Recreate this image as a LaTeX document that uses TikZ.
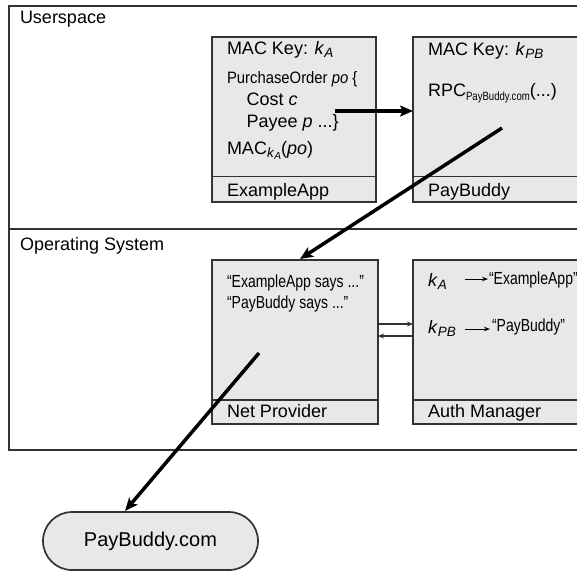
\documentclass[tikz,border=0pt]{standalone}
\usepackage{fontspec}
\setmainfont{Liberation Sans}
\newfontfamily\nf[FakeStretch=0.8]{Liberation Sans}
\newfontfamily\nfb[FakeStretch=0.9]{Liberation Sans}
\usetikzlibrary{arrows.meta}
\definecolor{boxfill}{HTML}{E8E8E8}
\definecolor{edge}{HTML}{333333}
\newcommand\dn[2][0.75]{\raisebox{-0.35ex}{\scalebox{#1}{#2}}}
\begin{document}
\begin{tikzpicture}[x=1pt,y=-1pt,
 every node/.style={inner sep=0pt,outer sep=0pt,font=\fontsize{18}{21}\selectfont},
 region/.style={draw=edge,line width=1.7pt,anchor=north west,minimum width=591pt},
 comp/.style={draw=edge,fill=boxfill,line width=1.7pt,anchor=north west},
 sep/.style={draw=edge,line width=1.7pt},
 txt/.style={anchor=base west},
 ntxt/.style={anchor=base west,font=\fontsize{17.5}{20}\selectfont\nf},
 bigarrow/.style={line width=3.5pt,-{Stealth[length=13pt,width=11pt,inset=3pt]}},
 thinarrow/.style={draw=edge,line width=1.2pt,-{Stealth[length=6pt,width=5pt]}},
 maparrow/.style={line width=1pt,-{Stealth[length=6pt,width=4.5pt]}},
]
\useasboundingbox (0,0) rectangle (577,571);
% regions
\node[region,minimum height=223pt] (us) at (9,6) {};
\node[region,minimum height=221pt] (os) at (9,229) {};
\node[txt] (usl) at (20,23) {Userspace};
\node[txt] (osl) at (20,250.5) {Operating System};
% components
\node[comp,minimum width=164pt,minimum height=165pt] (ex) at (212,37) {};
\node[comp,minimum width=187pt,minimum height=165pt] (pb) at (413,37) {};
\node[comp,minimum width=166pt,minimum height=164pt] (np) at (212,260) {};
\node[comp,minimum width=187pt,minimum height=164pt] (am) at (413,260) {};
\draw[sep] (ex.west |- 0,176.5) -- (ex.east |- 0,176.5);
\draw[sep] (pb.west |- 0,176.5) -- (pb.east |- 0,176.5);
\draw[sep] (np.west |- 0,400) -- (np.east |- 0,400);
\draw[sep] (am.west |- 0,400) -- (am.east |- 0,400);
% ExampleApp texts
\node[txt] (ex1) at (227,54.5) {MAC Key: \textit{k}\dn{\textit{A}}};
\node[txt,font=\fontsize{16.5}{20}\selectfont\nfb] (ex2) at (227,83) {PurchaseOrder \textit{po} \{};
\node[txt] (ex3) at (246.5,105.5) {Cost \textit{c}};
\node[txt] (ex4) at (246.5,127.5) {Payee \textit{p} ...\}};
\node[txt] (ex5) at (227,154) {MAC\dn{\textit{k}\dn{\textit{A}}}(\textit{po})};
\node[txt] (ex6) at (227,196.5) {ExampleApp};
% PayBuddy texts
\node[txt] (pb1) at (428,55) {MAC Key: \textit{k}\dn{\textit{PB}}};
\node[txt] (pb2) at (428,96.5) {RPC\raisebox{-0.45ex}{\fontsize{12}{14}\selectfont\nf PayBuddy.com}(...)};
\node[txt] (pb3) at (428,196.5) {PayBuddy};
% Net Provider texts
\node[ntxt] (np1) at (227,287) {“ExampleApp says ...”};
\node[ntxt] (np2) at (227,308) {“PayBuddy says ...”};
\node[txt] (np3) at (227,417.5) {Net Provider};
% Auth Manager texts
\node[txt] (am1) at (428,286) {\textit{k}\dn{\textit{A}}};
\node[ntxt] (am2) at (489,284) {“ExampleApp”};
\node[txt] (am3) at (428,333) {\textit{k}\dn{\textit{PB}}};
\node[ntxt] (am4) at (492,331) {“PayBuddy”};
\node[txt] (am5) at (428,417.5) {Auth Manager};
\coordinate (m1s) at (465,279);
\coordinate (m1e) at (488,279);
\coordinate (m2s) at (465,329);
\coordinate (m2e) at (490,329);
\draw[maparrow] (m1s) -- (m1e);
\draw[maparrow] (m2s) -- (m2e);
% web node
\node[draw=edge,fill=boxfill,line width=1.7pt,rounded corners=29pt,minimum width=215pt,minimum height=58pt,font=\fontsize{20}{24}\selectfont] (web) at (150.5,541) {PayBuddy.com};
% connectors
\draw[thinarrow] (np.east |- 0,324) -- (am.west |- 0,324);
\draw[thinarrow] (am.west |- 0,336) -- (np.east |- 0,336);
\coordinate (h1) at (335,111);
\draw[bigarrow] (h1) -- (h1 -| pb.west);
\coordinate (d1s) at (502,128);
\coordinate (d1e) at (300,259);
\draw[bigarrow] (d1s) -- (d1e);
\coordinate (d2s) at (259,353);
\coordinate (d2e) at (125,511);
\draw[bigarrow] (d2s) -- (d2e);
\end{tikzpicture}
\end{document}
